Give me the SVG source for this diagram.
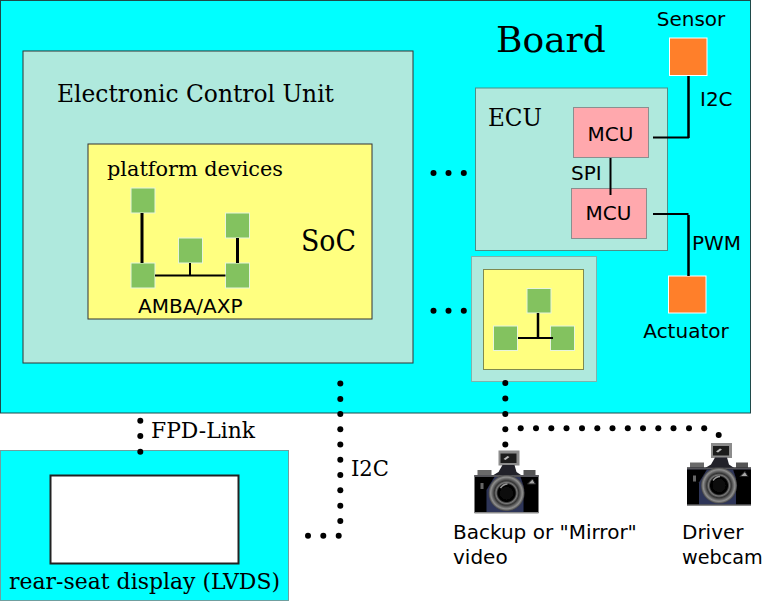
<svg xmlns="http://www.w3.org/2000/svg" width="764" height="601" viewBox="0 0 764 601">
<style>
.serif{font-family:"DejaVu Serif",serif;fill:#000}
.sans{font-family:"DejaVu Sans",sans-serif;fill:#000;font-size:20px}
.link{fill:none;stroke:#000}
.dots{fill:#000}
.dev{fill:#83c25f;stroke:#e8f5dc;stroke-width:1}
.act{fill:#ff7f2a;stroke:#fff;stroke-width:1}
.mcu{fill:#ffa8ad;stroke:#8a8f8f;stroke-width:1}
.ecu{fill:#afe9dd;stroke:#4d8f88;stroke-width:1}
.soc{fill:#ffff80;stroke:#555;stroke-width:1}
</style>
<defs>
<filter id="soft" x="-5%" y="-5%" width="110%" height="110%"><feGaussianBlur stdDeviation="0.5"/></filter>
<radialGradient id="lens"><stop offset="0" stop-color="#111"/><stop offset="0.48" stop-color="#030303"/><stop offset="0.58" stop-color="#7a7a7a"/><stop offset="0.68" stop-color="#333"/><stop offset="0.88" stop-color="#8f8f8f"/><stop offset="1" stop-color="#444"/></radialGradient>
<g id="camera" filter="url(#soft)">
<rect x="24" y="0.500" width="21" height="15" fill="#8c8c8c"/>
<rect x="26" y="3.500" width="16" height="9.500" fill="#1c1c1c"/>
<path d="M29 9l4-3 2 1-4 3z" fill="#bbb"/>
<path d="M28 15h12l2 7 9 6H14l10-6z" fill="#22222a"/>
<rect x="3" y="20" width="14" height="8" fill="#6a6a6a"/>
<rect x="49" y="20" width="12" height="8" fill="#555"/>
<rect x="0" y="25" width="64" height="38" fill="#040406"/>
<rect x="0" y="25" width="64" height="2" fill="#55555a"/>
<path d="M20 27H46L49 36 49 62H12L12 40z" fill="#2f3658"/>
<circle cx="32" cy="43" r="18" fill="url(#lens)"/>
<path d="M26 38q3-4 7-4" fill="none" stroke="#999" stroke-width="1.500"/>
<path d="M53 34l5-5 3 5z" fill="#a8a8a8" stroke="#222"/>
<rect x="6" y="33" width="3" height="6" fill="#666"/>
<rect x="0" y="62" width="64" height="1.500" fill="#8a8a8a"/>
</g>
</defs>

<g id="board">
<rect x="0.500" y="0.500" width="750" height="412.500" fill="#0ff" stroke="#1f4a4a" stroke-width="1"/>
<text class="serif" x="496" y="52" font-size="36">Board</text>
</g>

<g id="ecu-main">
<rect class="ecu" x="23" y="51" width="390" height="312" style="stroke:#333"/>
<text class="serif" x="57" y="102" font-size="24" textLength="277" lengthAdjust="spacingAndGlyphs">Electronic Control Unit</text>
</g>

<g id="soc">
<rect class="soc" x="88" y="144" width="284" height="175" style="stroke:#333"/>
<text class="serif" x="107" y="176" font-size="21" textLength="176" lengthAdjust="spacingAndGlyphs">platform devices</text>
<text class="serif" x="301" y="251" font-size="29" textLength="55" lengthAdjust="spacingAndGlyphs">SoC</text>
<text class="sans" x="138" y="313">AMBA/AXP</text>
</g>
<g id="dev1"><rect class="dev" x="131" y="188" width="24" height="25"/></g>
<g id="dev2"><rect class="dev" x="225.500" y="213" width="24" height="25"/></g>
<g id="dev3"><rect class="dev" x="178.500" y="238" width="24" height="25"/></g>
<g id="dev4"><rect class="dev" x="131" y="263" width="24" height="25"/></g>
<g id="dev5"><rect class="dev" x="225.500" y="263" width="24" height="25"/></g>

<g id="ecu-small">
<rect class="ecu" x="475.500" y="88" width="192" height="162.500"/>
<text class="serif" x="488" y="126" font-size="25" textLength="54" lengthAdjust="spacingAndGlyphs">ECU</text>
</g>
<g id="mcu1"><rect class="mcu" x="573.500" y="107.500" width="75" height="50"/><text class="sans" x="610.500" y="141" text-anchor="middle">MCU</text></g>
<g id="mcu2"><rect class="mcu" x="571.500" y="188.500" width="75" height="50"/><text class="sans" x="608.500" y="220" text-anchor="middle">MCU</text></g>
<g id="sensor"><rect class="act" x="669.500" y="38" width="37.500" height="37.500"/><text class="sans" x="691" y="26" text-anchor="middle">Sensor</text></g>
<g id="actuator"><rect class="act" x="668.500" y="276" width="37.500" height="37"/><text class="sans" x="686" y="338" text-anchor="middle">Actuator</text></g>

<g id="soc-small">
<rect class="ecu" x="471.500" y="256.500" width="125" height="125" style="stroke:#7fb3ab"/>
<rect class="soc" x="483.500" y="269.500" width="100" height="100" style="stroke:#7f8a4f"/>
</g>
<g id="dev6"><rect class="dev" x="527" y="288.500" width="24" height="24.500"/></g>
<g id="dev7"><rect class="dev" x="493.500" y="326" width="24" height="24.500"/></g>
<g id="dev8"><rect class="dev" x="550.500" y="326" width="24" height="24.500"/></g>

<g id="display">
<rect x="0.500" y="450.500" width="288" height="150" fill="#0ff" stroke="#6f9f9f"/>
<rect x="50.500" y="475.500" width="188" height="88" fill="#fff" stroke="#222" stroke-width="2"/>
<text class="serif" x="9" y="589" font-size="22" textLength="271" lengthAdjust="spacingAndGlyphs">rear-seat display (LVDS)</text>
</g>

<g id="camera1"><use href="#camera" x="474.500" y="450"/>
<text class="sans" x="453" y="539">Backup or "Mirror"</text><text class="sans" x="453" y="564">video</text></g>
<g id="camera2"><use href="#camera" x="687" y="442.500"/>
<text class="sans" x="682" y="539">Driver</text><text class="sans" x="682" y="564" style="font-size:19.200px">webcam</text></g>

<g id="connectors">
<path class="link" stroke-width="3" d="M142 213V263M237.500 238V263"/>
<path class="link" stroke-width="2" d="M155 275.500H225.500M190 263V275.500M518 338H553"/>
<path class="link" stroke-width="2.500" d="M538 313V338"/>
<path class="link" stroke-width="2" d="M610.500 158V195"/>
<path class="link" stroke-width="2.500" d="M688.500 76V138M688.500 215V276"/>
<path class="link" stroke-width="2" d="M653 137.500H689M653 214H688.500"/>
<g class="dots">
<circle cx="433.500" cy="173" r="3"/><circle cx="448.500" cy="173" r="3"/><circle cx="463.800" cy="173" r="3"/>
<circle cx="433.500" cy="310.700" r="3"/><circle cx="448.500" cy="310.700" r="3"/><circle cx="463.800" cy="310.700" r="3"/>
<circle cx="505.300" cy="383" r="3"/><circle cx="505.300" cy="398.500" r="3"/><circle cx="505.300" cy="414" r="3"/><circle cx="505.300" cy="429.300" r="3"/><circle cx="505.300" cy="444.500" r="3"/>
<circle cx="520.700" cy="428.300" r="3"/><circle cx="536" cy="428.300" r="3"/><circle cx="551.300" cy="428.300" r="3"/><circle cx="566.500" cy="428.300" r="3"/><circle cx="582" cy="428.300" r="3"/><circle cx="597.300" cy="428.300" r="3"/><circle cx="612.500" cy="428.300" r="3"/><circle cx="627.800" cy="428.300" r="3"/><circle cx="643" cy="428.300" r="3"/><circle cx="658.300" cy="428.300" r="3"/><circle cx="673.500" cy="428.300" r="3"/><circle cx="689" cy="428.300" r="3"/><circle cx="704.200" cy="428.300" r="3"/><circle cx="718.700" cy="435" r="3"/>
<circle cx="340.300" cy="383.500" r="3"/><circle cx="340.300" cy="399" r="3"/><circle cx="340.300" cy="414" r="3"/><circle cx="340.300" cy="429.300" r="3"/><circle cx="340.300" cy="444.500" r="3"/><circle cx="340.300" cy="459.800" r="3"/><circle cx="340.300" cy="475" r="3"/><circle cx="340.300" cy="490.300" r="3"/><circle cx="340.300" cy="505.700" r="3"/><circle cx="340.300" cy="521" r="3"/>
<circle cx="338.700" cy="535.700" r="3"/><circle cx="323.300" cy="535.700" r="3"/><circle cx="308" cy="535.700" r="3"/>
<circle cx="140.300" cy="420.700" r="3"/><circle cx="140.300" cy="436" r="3"/><circle cx="140.300" cy="451.700" r="3"/>
</g>
<text class="sans" x="700" y="106">I2C</text>
<text class="sans" x="571" y="180">SPI</text>
<text class="sans" x="692" y="250">PWM</text>
<text class="serif" x="151" y="438" font-size="22" textLength="104" lengthAdjust="spacingAndGlyphs">FPD-Link</text>
<text class="serif" x="351" y="476" font-size="22" textLength="38" lengthAdjust="spacingAndGlyphs">I2C</text>
</g>
</svg>
